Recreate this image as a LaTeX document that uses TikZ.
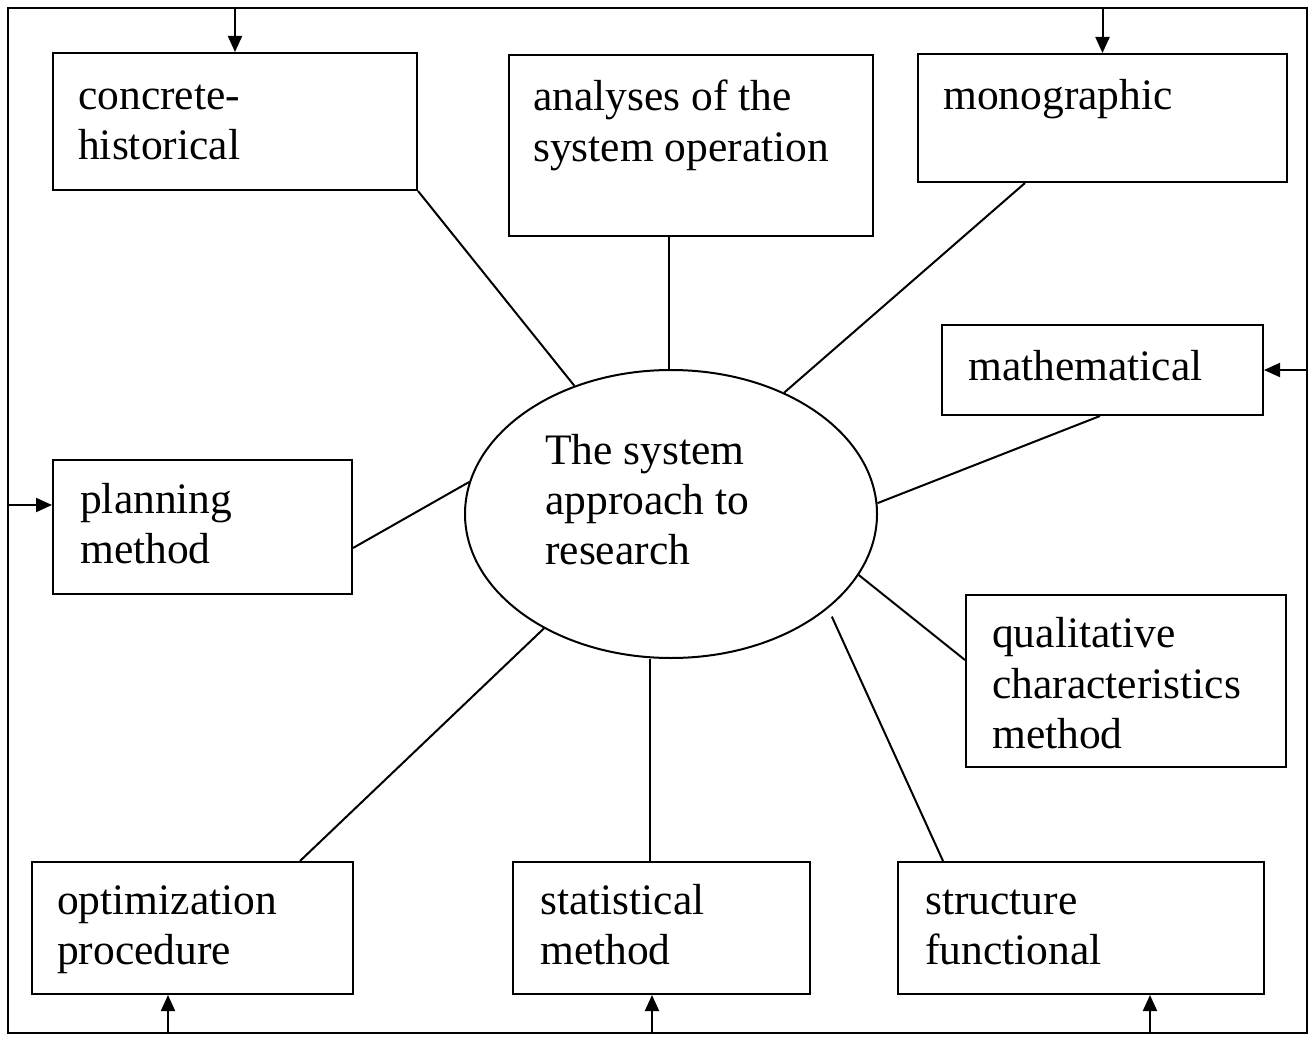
\documentclass[tikz,border=0pt]{standalone}
\usepackage{fontspec}
\setmainfont{Liberation Serif}
\usetikzlibrary{shapes.geometric,arrows.meta,calc}
\tikzset{
  boxnode/.style={draw, rectangle, line width=2pt, inner sep=0pt, minimum width=#1},
  lbl/.style={anchor=base west, inner sep=0pt, font=\fontsize{43.5}{50}\selectfont},
  link/.style={line width=2pt},
  arr/.style={line width=2pt, -{Triangle[length=16pt,width=14pt]}}
}
\begin{document}
\begin{tikzpicture}[x=1pt,y=-1pt]
\useasboundingbox (0,0) rectangle (1312,1038);
\fill[white] (0,0) rectangle (1312,1038);
% outer frame
\node[draw, line width=2pt, rectangle, inner sep=0pt, minimum width=1299pt, minimum height=1025pt] (frame) at (657.5,520.5) {};
% boxes
\node[boxnode=364pt, minimum height=137pt] (concrete) at (235,121.5) {};
\node[boxnode=364pt, minimum height=181pt] (analyses) at (691,145.5) {};
\node[boxnode=369pt, minimum height=128pt] (monographic) at (1102.5,118) {};
\node[boxnode=321pt, minimum height=90pt] (mathematical) at (1102.5,370) {};
\node[boxnode=299pt, minimum height=134pt] (planning) at (202.5,527) {};
\node[boxnode=320pt, minimum height=172pt] (qualitative) at (1126,681) {};
\node[boxnode=321pt, minimum height=132pt] (optimization) at (192.5,928) {};
\node[boxnode=297pt, minimum height=132pt] (statistical) at (661.5,928) {};
\node[boxnode=366pt, minimum height=132pt] (structure) at (1081,928) {};
% central ellipse
\node[draw, ellipse, line width=2pt, inner sep=0pt, minimum width=412pt, minimum height=288pt] (ell) at (671,514) {};
% texts
\node[lbl] (t1a) at (78,110) {concrete-};
\node[lbl] (t1b) at (78,160) {historical};
\node[lbl] (t2a) at (533,111) {analyses of the};
\node[lbl] (t2b) at (533,161) {system operation};
\node[lbl] (t3a) at (943,110) {monographic};
\node[lbl] (t4a) at (968,380) {mathematical};
\node[lbl] (t5a) at (80,513) {planning};
\node[lbl] (t5b) at (80,563) {method};
\node[lbl] (t6a) at (992,647) {qualitative};
\node[lbl] (t6b) at (992,698) {characteristics};
\node[lbl] (t6c) at (992,748) {method};
\node[lbl] (t7a) at (57,914) {optimization};
\node[lbl] (t7b) at (57,964) {procedure};
\node[lbl] (t8a) at (540,914) {statistical};
\node[lbl] (t8b) at (540,964) {method};
\node[lbl] (t9a) at (925,914) {structure};
\node[lbl] (t9b) at (925,964) {functional};
\node[lbl] (tea) at (545,464) {The system};
\node[lbl] (teb) at (545,514) {approach to};
\node[lbl] (tec) at (545,564) {research};
% connectors to the ellipse
\draw[link] (concrete.south east) -- (ell.127);
\draw[link] ([xshift=-22pt]analyses.south) -- ([xshift=-22pt]analyses.south |- ell.north);
\draw[link] ([xshift=-77.5pt]monographic.south) -- (ell.47);
\draw[link] ([xshift=-2.5pt]mathematical.south) -- (ell.3);
\draw[link] ([yshift=-21pt]planning.east) -- (ell.171);
\draw[link] ([yshift=21pt]qualitative.west) -- (ell.-18);
\draw[link, shorten >=9pt] ([xshift=-138pt]structure.north) -- (ell.-31.3);
\draw[link] ([xshift=-11.5pt]statistical.north) -- ([xshift=-11.5pt]statistical.north |- ell.south);
\draw[link] ([xshift=107.5pt]optimization.north) -- (ell.-138.5);
% arrows from the frame
\draw[arr] (concrete.north |- frame.north) -- (concrete.north);
\draw[arr] (monographic.north |- frame.north) -- (monographic.north);
\draw[arr] (mathematical.east -| frame.east) -- (mathematical.east);
\draw[arr] ([yshift=22pt]planning.west -| frame.west) -- ([yshift=22pt]planning.west);
\draw[arr] ([xshift=-24.5pt]optimization.south |- frame.south) -- ([xshift=-24.5pt]optimization.south);
\draw[arr] ([xshift=-9.5pt]statistical.south |- frame.south) -- ([xshift=-9.5pt]statistical.south);
\draw[arr] ([xshift=69pt]structure.south |- frame.south) -- ([xshift=69pt]structure.south);
\end{tikzpicture}
\end{document}
